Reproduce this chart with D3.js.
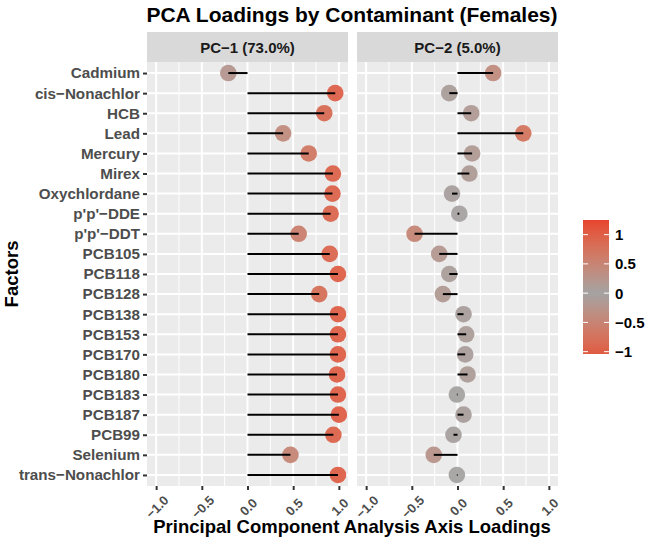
<!DOCTYPE html>
<html>
<head>
	<meta charset="utf-8">
	<title>PCA Loadings by Contaminant</title>
	<script src="https://d3js.org/d3.v7.min.js"></script>
	<style>
		body { margin: 0; background: #fff; }
		text { font-family: "Liberation Sans", Arial, sans-serif; }
	</style>
</head>
<body>
	<script type="text/javascript">
		// contaminants, top to bottom
		var factors = ["Cadmium", "cis\u2212Nonachlor", "HCB", "Lead", "Mercury", "Mirex", "Oxychlordane",
			"p'p'\u2212DDE", "p'p'\u2212DDT", "PCB105", "PCB118", "PCB128", "PCB138", "PCB153", "PCB170",
			"PCB180", "PCB183", "PCB187", "PCB99", "Selenium", "trans\u2212Nonachlor"];

		// loadings
		var pc1 = [-0.21, 0.96, 0.84, 0.39, 0.67, 0.935, 0.93, 0.91, 0.56, 0.90, 0.99,
			0.785, 0.99, 0.99, 0.99, 0.98, 0.99, 1.0, 0.94, 0.47, 0.99];
		var pc2 = [0.39, -0.09, 0.15, 0.72, 0.16, 0.13, -0.06, 0.02, -0.47, -0.20, -0.09,
			-0.16, 0.066, 0.095, 0.084, 0.11, -0.007, 0.066, -0.044, -0.26, -0.007];

		var panelNames = ["PC\u22121 (73.0%)", "PC\u22122 (5.0%)"];
		var xTicks = [-1, -0.5, 0, 0.5, 1];
		var legendTicks = [1, 0.5, 0, -0.5, -1];

		var width = 649, height = 545;
		var panelTop = 62, panelBottom = 486, stripH = 30;
		var panelLeft = [147, 357], panelW = 201;

		var minus = function(s) { return String(s).replace("-", "\u2212"); };

		var svg = d3.select("body").append("svg")
			.attr("width", width)
			.attr("height", height);

		var y = d3.scalePoint()
			.domain(factors)
			.range([panelTop, panelBottom])
			.padding(0.55);

		// red - grey - red gradient
		var color = d3.scaleLinear()
			.domain([-1.25, 0, 1.25])
			.range(["#E8442F", "#A3A3A3", "#E8442F"])
			.interpolate(d3.interpolateLab)
			.clamp(true);

		var series = [pc1, pc2];

		series.forEach(function(vals, p) {
			var x = d3.scaleLinear()
				.domain([-1.1, 1.1])
				.range([panelLeft[p], panelLeft[p] + panelW]);

			var g = svg.append("g");

			// strip
			g.append("rect")
				.attr("x", panelLeft[p]).attr("y", panelTop - stripH)
				.attr("width", panelW).attr("height", stripH)
				.attr("fill", "#D9D9D9");
			g.append("text")
				.attr("x", panelLeft[p] + panelW / 2).attr("y", panelTop - stripH / 2 + 5.5)
				.attr("text-anchor", "middle")
				.attr("font-size", 15).attr("font-weight", "bold").attr("fill", "#1A1A1A")
				.text(panelNames[p]);

			// panel background
			g.append("rect")
				.attr("x", panelLeft[p]).attr("y", panelTop)
				.attr("width", panelW).attr("height", panelBottom - panelTop)
				.attr("fill", "#EBEBEB");

			// minor grid
			g.selectAll(".minor").data([-0.75, -0.25, 0.25, 0.75]).enter().append("line")
				.attr("x1", function(d) { return x(d); }).attr("x2", function(d) { return x(d); })
				.attr("y1", panelTop).attr("y2", panelBottom)
				.attr("stroke", "#fff").attr("stroke-width", 1);
			// major grid
			g.selectAll(".vmaj").data(xTicks).enter().append("line")
				.attr("x1", function(d) { return x(d); }).attr("x2", function(d) { return x(d); })
				.attr("y1", panelTop).attr("y2", panelBottom)
				.attr("stroke", "#fff").attr("stroke-width", 2);
			g.selectAll(".hmaj").data(factors).enter().append("line")
				.attr("x1", panelLeft[p]).attr("x2", panelLeft[p] + panelW)
				.attr("y1", function(d) { return y(d); }).attr("y2", function(d) { return y(d); })
				.attr("stroke", "#fff").attr("stroke-width", 2);

			// points then segments
			g.selectAll(".pt").data(vals).enter().append("circle")
				.attr("cx", function(d) { return x(d); })
				.attr("cy", function(d, i) { return y(factors[i]); })
				.attr("r", 8.3)
				.attr("fill", function(d) { return color(d); })
				.attr("opacity", 0.95);
			g.selectAll(".seg").data(vals).enter().append("line")
				.attr("x1", x(0)).attr("x2", function(d) { return x(d); })
				.attr("y1", function(d, i) { return y(factors[i]); })
				.attr("y2", function(d, i) { return y(factors[i]); })
				.attr("stroke", "#000").attr("stroke-width", 2);

			// x axis
			var ax = g.append("g").attr("transform", "translate(0," + panelBottom + ")")
				.call(d3.axisBottom(x).tickValues(xTicks).tickSize(4).tickPadding(4));
			ax.select(".domain").remove();
			ax.selectAll(".tick line").attr("stroke", "#333").attr("stroke-width", 2);
			ax.selectAll(".tick text")
				.attr("font-size", 13).attr("font-weight", "bold").attr("fill", "#4D4D4D")
				.attr("text-anchor", "middle")
				.attr("x", 0).attr("y", 0)
				.attr("dy", "0.35em")
				.attr("transform", "translate(0.5,21) rotate(-45)")
				.text(function(d) { return minus(d3.format(".1f")(d)); });
		});

		// y axis
		var ay = svg.append("g").attr("transform", "translate(" + panelLeft[0] + ",0)")
			.call(d3.axisLeft(y).tickSize(4).tickPadding(3));
		ay.select(".domain").remove();
		ay.selectAll(".tick line").attr("stroke", "#333").attr("stroke-width", 2);
		ay.selectAll(".tick text")
			.attr("font-size", 15.2).attr("font-weight", "bold").attr("fill", "#4D4D4D");

		// titles
		svg.append("text")
			.attr("x", 352).attr("y", 22)
			.attr("text-anchor", "middle")
			.attr("font-size", 21).attr("font-weight", "bold")
			.text("PCA Loadings by Contaminant (Females)");
		svg.append("text")
			.attr("x", 352).attr("y", 533)
			.attr("text-anchor", "middle")
			.attr("font-size", 18.5).attr("font-weight", "bold")
			.text("Principal Component Analysis Axis Loadings");
		svg.append("text")
			.attr("transform", "translate(18," + ((panelTop + panelBottom) / 2) + ") rotate(-90)")
			.attr("text-anchor", "middle")
			.attr("font-size", 18.5).attr("font-weight", "bold")
			.text("Factors");

		// colour bar legend
		var legTop = 220, legBottom = 354, legX = 583, legW = 26;
		var ly = d3.scaleLinear().domain([-1.04, 1.25]).range([legBottom, legTop]);
		var defs = svg.append("defs");
		var grad = defs.append("linearGradient").attr("id", "cbar")
			.attr("x1", 0).attr("y1", 1).attr("x2", 0).attr("y2", 0);
		d3.range(0, 1.0001, 0.05).forEach(function(t) {
			var v = -1.04 + t * (1.25 + 1.04);
			grad.append("stop").attr("offset", t).attr("stop-color", color(v));
		});
		svg.append("rect")
			.attr("x", legX).attr("y", legTop).attr("width", legW).attr("height", legBottom - legTop)
			.attr("fill", "url(#cbar)");
		var lt = svg.append("g").selectAll("g").data(legendTicks).enter().append("g");
		lt.append("line")
			.attr("x1", legX).attr("x2", legX + 5)
			.attr("y1", function(d) { return ly(d); }).attr("y2", function(d) { return ly(d); })
			.attr("stroke", "#fff").attr("stroke-width", 1);
		lt.append("line")
			.attr("x1", legX + legW - 5).attr("x2", legX + legW)
			.attr("y1", function(d) { return ly(d); }).attr("y2", function(d) { return ly(d); })
			.attr("stroke", "#fff").attr("stroke-width", 1);
		lt.append("text")
			.attr("x", legX + legW + 6).attr("y", function(d) { return ly(d) + 5.5; })
			.attr("font-size", 15).attr("font-weight", "bold")
			.text(function(d) { return minus(d); });
	</script>
</body>
</html>
